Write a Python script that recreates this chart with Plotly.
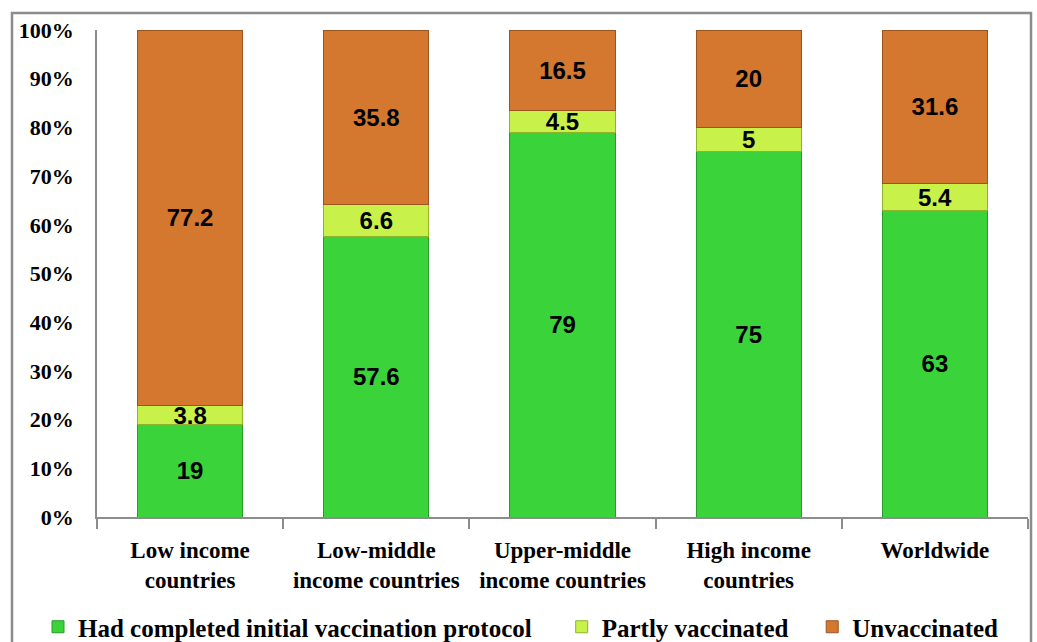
import plotly.graph_objects as go

categories = ["Low income<br>countries", "Low-middle<br>income countries",
              "Upper-middle<br>income countries", "High income<br>countries", "Worldwide"]
completed = [19, 57.6, 79, 75, 63]
partly = [3.8, 6.6, 4.5, 5, 5.4]
unvaccinated = [77.2, 35.8, 16.5, 20, 31.6]
tick_vals = [0, 10, 20, 30, 40, 50, 60, 70, 80, 90, 100]
tick_text = [f"{v}%" for v in tick_vals]

W, H = 1037, 642
L, R, T, B = 97, 9, 30, 125
pw, ph = W - L - R, H - T - B

def px_x(p):
    return (p - L) / pw

def px_y(p):
    return (H - B - p) / ph

NB = "\u00a0"
series = [
    ("Had completed initial vaccination protocol" + NB * 4, completed, "#3ad43a", "#2a9a2a"),
    ("Partly vaccinated" + NB * 3, partly, "#c8f24a", "#8fb32a"),
    ("Unvaccinated", unvaccinated, "#d4772f", "#9a5420"),
]

fig = go.Figure()
for name, vals, col, lc in series:
    fig.add_trace(go.Bar(
        x=categories, y=vals, name=name,
        marker=dict(color=col, line=dict(color=lc, width=1)),
        text=[f"{v:g}" for v in vals],
        textposition="inside", insidetextanchor="middle",
        constraintext="none", textangle=0,
        textfont=dict(family="Liberation Sans, Arial", size=24, color="black", weight="bold"),
        width=0.565,
    ))

serif = "Liberation Serif, Times New Roman, serif"
fig.update_layout(
    barmode="stack",
    width=W, height=H,
    margin=dict(l=L, r=R, t=T, b=B, autoexpand=False),
    paper_bgcolor="white", plot_bgcolor="white",
    showlegend=True,
    legend=dict(orientation="h", x=px_x(38), xanchor="left", y=px_y(627), yanchor="middle",
                font=dict(family=serif, size=25, color="black", weight="bold"),
                itemwidth=30, traceorder="normal"),
    shapes=[dict(type="rect", xref="paper", yref="paper",
                 x0=px_x(12), x1=px_x(1031), y0=px_y(660), y1=px_y(13),
                 line=dict(color="#8c8c8c", width=2.5), fillcolor="rgba(0,0,0,0)", layer="below")],
)
fig.update_xaxes(
    showline=True, linecolor="#8c8c8c", linewidth=1.5, automargin=False,
    ticks="outside", tickson="boundaries", ticklen=10, tickcolor="#8c8c8c", tickwidth=1.5,
    ticklabelstandoff=12,
    tickfont=dict(family=serif, size=23, color="black", weight="bold"),
    showgrid=False,
)
fig.update_yaxes(
    range=[0, 100], tickvals=tick_vals, ticktext=tick_text, automargin=False,
    showline=True, linecolor="#8c8c8c", linewidth=1.5,
    ticks="", ticklabelstandoff=17,
    tickfont=dict(family=serif, size=22, color="black", weight="bold"),
    showgrid=False, zeroline=False,
)
fig.write_html("out.html")
